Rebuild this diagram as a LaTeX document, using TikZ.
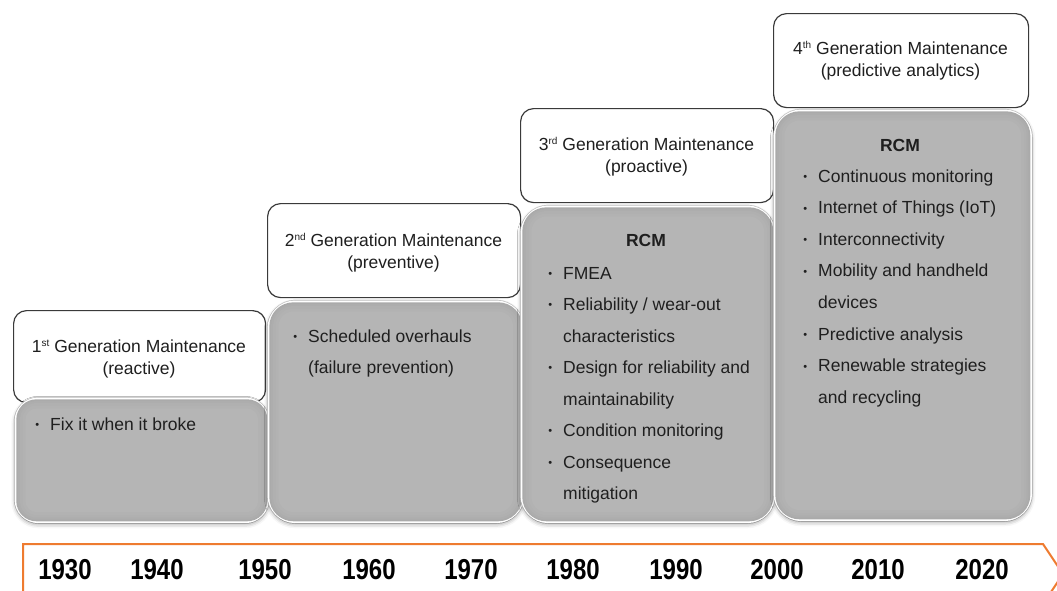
\documentclass[tikz,border=0pt]{standalone}
\usepackage{fontspec}
\setmainfont{Liberation Sans}
\usetikzlibrary{shadows.blur}

\definecolor{hdrline}{HTML}{3A3A3A}
\definecolor{panelgray}{HTML}{B5B5B5}
\definecolor{paneledge}{HTML}{A3A3A3}
\definecolor{tlorange}{HTML}{EE7B30}

% small bullet hung to the left of an item
\newcommand\bul{\llap{\raisebox{1.6pt}{\fontsize{11}{11}\selectfont\textbullet}\hspace{11pt}}}
% small raised ordinal suffix
\newcommand\ord[1]{\raisebox{5.8pt}{\fontsize{10}{10}\selectfont #1}}
\newcommand\yearlabel[1]{\scalebox{1}[1.2]{#1}}

\tikzset{
  header/.style={draw=hdrline, line width=1.2pt, fill=white, rounded corners=13pt,
    anchor=north west, inner sep=0pt},
  panel/.style={draw=white, line width=3.6pt, fill=paneledge, anchor=north west, inner sep=0pt,
    preaction={draw=black!22, line width=5pt},
    blur shadow={shadow xshift=0pt, shadow yshift=-2pt, shadow blur radius=5pt, shadow opacity=50}},
  htext/.style={align=center, inner sep=0pt, font=\fontsize{17.5}{22}\selectfont, text=black!88},
  item/.style={anchor=base west, inner sep=0pt, font=\fontsize{17.5}{21}\selectfont, text=black!88},
  rcm/.style={anchor=base, inner sep=0pt, font=\fontsize{17.5}{21}\selectfont\bfseries, text=black!88},
  year/.style={inner sep=0pt, font=\fontsize{24}{24}\selectfont\bfseries},
  timeline/.style={draw=tlorange, line width=2pt, line join=miter},
}

% lighter inner layers give the panels darker edges
\newcommand\panelshade[2]{%
  \foreach \ins/\shade in {1.8/40, 3.5/55, 5.5/70, 8/84, 11/100}{
    \fill[panelgray!\shade!paneledge, rounded corners={#2-\ins pt}]
      ([shift={(\ins pt,-\ins pt)}]#1.north west) rectangle ([shift={(-\ins pt,\ins pt)}]#1.south east);
  }}

\begin{document}
\begin{tikzpicture}[x=1pt, y=-1pt]
\useasboundingbox (0,0) rectangle (1057,590);

% generation headers
\node[header, minimum width=252pt, minimum height=92pt] (h1) at (13,310) {};
\node[header, minimum width=253pt, minimum height=94pt] (h2) at (267,203) {};
\node[header, minimum width=253pt, minimum height=94pt] (h3) at (520,108) {};
\node[header, minimum width=255pt, minimum height=94pt] (h4) at (773,13) {};

% grey panels
\node[panel, rounded corners=22pt, minimum width=251pt, minimum height=122pt] (p1) at (14.5,397.5) {};
\panelshade{p1}{22}
\node[panel, rounded corners=26pt, minimum width=253pt, minimum height=219pt] (p2) at (267.5,300.5) {};
\panelshade{p2}{26}
\node[panel, rounded corners=26pt, minimum width=251pt, minimum height=314pt] (p3) at (520.5,205.5) {};
\panelshade{p3}{26}
\node[panel, rounded corners=26pt, minimum width=255pt, minimum height=408pt] (p4) at (773.5,109.5) {};
\panelshade{p4}{26}

% header texts
\node[htext] (h1t) at (139,359) {1\ord{st} Generation Maintenance\\(reactive)};
\node[htext] (h2t) at (393.5,252.5) {2\ord{nd} Generation Maintenance\\(preventive)};
\node[htext] (h3t) at (646.5,156.5) {3\ord{rd} Generation Maintenance\\(proactive)};
\node[htext] (h4t) at (900.5,61) {4\ord{th} Generation Maintenance\\(predictive analytics)};

% panel contents
\node[item] (p1-1) at (50,430) {\bul Fix it when it broke};

\node[item] (p2-1) at (308,342) {\bul Scheduled overhauls};
\node[item] (p2-2) at (308,373) {(failure prevention)};

\node[rcm] (p3r) at (646,246) {RCM};
\foreach \txt [count=\k] in {{\bul FMEA}, {\bul Reliability / wear-out}, {characteristics},
    {\bul Design for reliability and}, {maintainability}, {\bul Condition monitoring},
    {\bul Consequence}, {mitigation}}
  \node[item] (p3-\k) at (563,{279+31.5*(\k-1)}) {\txt};

\node[rcm] (p4r) at (900,151) {RCM};
\foreach \txt [count=\k] in {{\bul Continuous monitoring}, {\bul Internet of Things (IoT)},
    {\bul Interconnectivity}, {\bul Mobility and handheld}, {devices},
    {\bul Predictive analysis}, {\bul Renewable strategies}, {and recycling}}
  \node[item] (p4-\k) at (818,{182+31.6*(\k-1)}) {\txt};

% timeline arrow
\draw[timeline] (23,604) -- (23,544) -- (1043,544) -- (1063,574) -- (1043,604);
\foreach \yr/\xc in {1930/65, 1940/157, 1950/265, 1960/369, 1970/471,
                     1980/573, 1990/676, 2000/777, 2010/878, 2020/982}
  \node[year] (y\yr) at (\xc,570) {\yearlabel{\yr}};
\end{tikzpicture}
\end{document}
